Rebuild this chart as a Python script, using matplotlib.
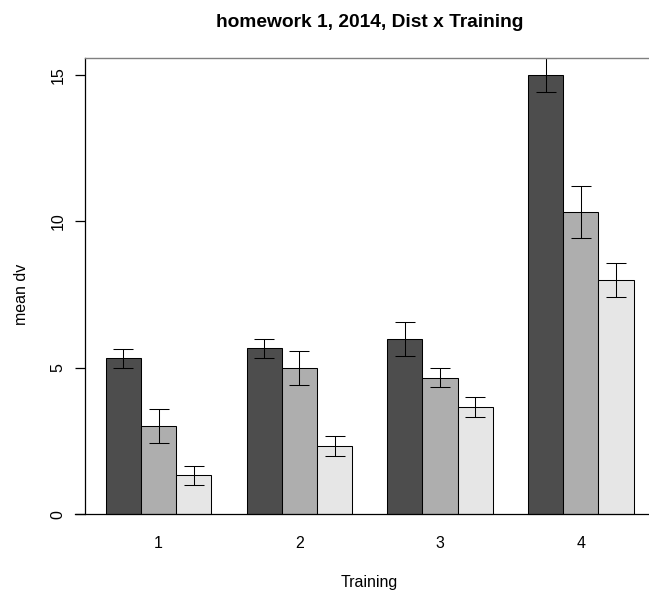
# 平均値と標準誤差を Training × Dist でグループ化した棒グラフ（R の barplot 風）

import numpy as np
import matplotlib.pyplot as plt

plt.rcParams['font.family'] = ['Liberation Sans', 'DejaVu Sans']

# データ（Training の各水準ごとに Dist 3 水準の平均値と標準誤差）
training = ["1", "2", "3", "4"]
dist1_mean = [5.33, 5.67, 6.00, 15.00]
dist2_mean = [3.00, 5.00, 4.67, 10.33]
dist3_mean = [1.33, 2.33, 3.67, 8.00]
dist1_se = [0.33, 0.33, 0.58, 0.58]
dist2_se = [0.58, 0.58, 0.33, 0.88]
dist3_se = [0.33, 0.33, 0.33, 0.58]

means = [dist1_mean, dist2_mean, dist3_mean]
ses = [dist1_se, dist2_se, dist3_se]
colors = ['#4D4D4D', '#AEAEAE', '#E6E6E6']   # R の gray.colors(3)

W, H = 649, 592
fig = plt.figure(figsize=(W / 100, H / 100), dpi=100)

# プロット領域（ピクセル位置から決める）
left, right, top, bottom = 84.6, 654.8, 57.5, 531.9
ax = fig.add_axes([left / W, 1 - bottom / H, (right - left) / W, (bottom - top) / H])

groups = np.arange(len(training))
for s in range(3):
    x = 1 + 4 * groups + s + 0.5
    ax.bar(x, means[s], width=1.0, color=colors[s], edgecolor='black', linewidth=0.75)
    ax.errorbar(x, means[s], yerr=ses[s], fmt='none', ecolor='black',
                elinewidth=0.75, capsize=7.2, capthick=0.75)

ax.set_xlim(0.4, 16.6)
ax.set_ylim(-0.6, 15.6)

# 軸の線
for side in ['right', 'bottom']:
    ax.spines[side].set_visible(False)
ax.spines['left'].set_bounds(0, 15.6)
ax.spines['left'].set_linewidth(0.9)
ax.spines['top'].set_color('#808080')
ax.spines['top'].set_linewidth(1.0)
ax.axhline(0, xmin=-10 / (right - left), xmax=1, color='black', linewidth=0.9, clip_on=False)

# 目盛り
ax.set_yticks([0, 5, 10, 15])
ax.set_yticklabels(['0', '5', '10', '15'], rotation=90, va='center', fontsize=11.5)
ax.tick_params(axis='y', length=7.2, width=0.9, pad=6.5)
ax.set_xticks(1 + 4 * groups + 1.5)
ax.set_xticklabels(training, fontsize=11.5)
ax.tick_params(axis='x', length=0, pad=3)

# タイトルと軸ラベル
cx = (left + right) / 2 / W
fig.text(cx, 1 - 22.8 / H, "homework 1, 2014, Dist x Training",
         ha='center', va='center', fontsize=13.8, fontweight='bold')
fig.text(cx, 1 - 582.7 / H, "Training", ha='center', va='center', fontsize=11.5)
fig.text(22 / W, 1 - (top + bottom) / 2 / H, "mean dv", ha='center', va='center',
         rotation=90, fontsize=11.5)

plt.savefig("out.png", dpi=100)
